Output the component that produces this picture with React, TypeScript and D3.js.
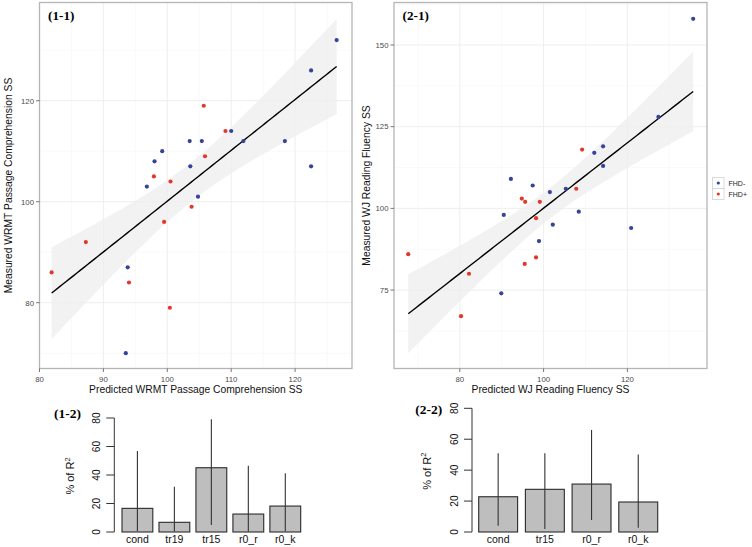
import React from "react";
import * as d3 from "d3";

// ---------- Panel (1-1): WRMT Passage Comprehension ----------
const p1BlueX = [126.5, 122.5, 110, 103.5, 105.4, 111.9, 118.4, 99.2, 98, 103.6, 122.5, 96.8, 104.8, 93.8, 93.5];
const p1BlueY = [132, 126, 114, 112, 112, 112, 112, 110, 108, 107, 107, 103, 101, 87, 70];
const p1RedX = [105.7, 109.1, 105.9, 97.9, 100.5, 103.8, 99.5, 87.25, 81.9, 94, 100.4];
const p1RedY = [119, 114, 109, 105, 104, 99, 96, 92, 86, 84, 79];
const p1XTicks = [80, 90, 100, 110, 120];
const p1YTicks = [80, 100, 120];
const p1XDomain = [80.0, 128.9];
const p1YDomain = [66.97, 139.45];

// ---------- Panel (2-1): WJ Reading Fluency ----------
const p2BlueX = [135.7, 127.4, 112.1, 114.2, 114.2, 92.2, 97.4, 101.5, 105.3, 90.5, 108.4, 102.2, 120.9, 98.9, 89.9];
const p2BlueY = [158, 128, 117, 119, 113, 109, 107, 105, 106, 98, 99, 95, 94, 90, 74];
const p2RedX = [109.2, 107.8, 94.8, 95.6, 99.1, 98.2, 67.7, 95.5, 98.2, 82.2, 80.3];
const p2RedY = [118, 106, 103, 102, 102, 97, 86, 83, 85, 80, 67];
const p2XTicks = [80, 100, 120];
const p2YTicks = [75, 100, 125, 150];
const p2XDomain = [64.3, 139.0];
const p2YDomain = [51.0, 163.0];

// ---------- Bar panels ----------
const bar1Cats = ["cond", "tr19", "tr15", "r0_r", "r0_k"];
const bar1Vals = [16.6, 6.8, 45.1, 12.6, 18.2];
const bar1Lo = [0.5, 0.3, 4.9, 0.3, 0.5];
const bar1Hi = [56.8, 31.8, 79.1, 46.5, 41.2];

const bar2Cats = ["cond", "tr15", "r0_r", "r0_k"];
const bar2Vals = [22.8, 27.6, 31.0, 19.4];
const bar2Lo = [4.1, 1.9, 7.8, 2.8];
const bar2Hi = [50.9, 50.9, 66.0, 50.2];

const barTicks = [0, 20, 40, 60, 80];

const legendLabels = ["FHD-", "FHD+"];
const BLUE = "#34439b";
const RED = "#e2382c";
const T_CRIT = 2.0639; // t(0.975, df = 24)

const SANS = "'Liberation Sans', Arial, Helvetica, sans-serif";
const SERIF = "'Liberation Serif', 'Times New Roman', serif";

function lmFit(xs: number[], ys: number[]) {
  const n = xs.length;
  const mx = d3.mean(xs)!;
  const my = d3.mean(ys)!;
  let sxx = 0, sxy = 0;
  xs.forEach((x, i) => { sxx += (x - mx) ** 2; sxy += (x - mx) * (ys[i] - my); });
  const b = sxy / sxx;
  const a = my - b * mx;
  let ssr = 0;
  xs.forEach((x, i) => { ssr += (ys[i] - (a + b * x)) ** 2; });
  const s = Math.sqrt(ssr / (n - 2));
  return {
    predict: (x: number) => a + b * x,
    se: (x: number) => s * Math.sqrt(1 / n + (x - mx) ** 2 / sxx),
  };
}

function minorBreaks(ticks: number[], domain: number[]) {
  const step = ticks[1] - ticks[0];
  const out: number[] = [];
  for (let v = ticks[0] - step / 2; v <= domain[1]; v += step) {
    if (v >= domain[0]) out.push(v);
  }
  return out;
}

type ScatterProps = {
  bx: number[]; by: number[]; rx: number[]; ry: number[];
  xTicks: number[]; yTicks: number[]; xDomain: number[]; yDomain: number[];
  left: number; right: number; top: number; bottom: number;
  title: string; xTitle: string; yTitle: string; yTitleX: number;
};

function Scatter(p: ScatterProps) {
  const x = d3.scaleLinear().domain(p.xDomain).range([p.left, p.right]);
  const y = d3.scaleLinear().domain(p.yDomain).range([p.bottom, p.top]);
  const allX = [...p.bx, ...p.rx];
  const allY = [...p.by, ...p.ry];
  const fit = lmFit(allX, allY);
  const [xmin, xmax] = d3.extent(allX) as [number, number];
  const xs = d3.range(0, 81).map((i) => xmin + ((xmax - xmin) * i) / 80);
  const band = d3
    .area<number>()
    .x((d) => x(d))
    .y0((d) => y(fit.predict(d) - T_CRIT * fit.se(d)))
    .y1((d) => y(fit.predict(d) + T_CRIT * fit.se(d)));
  const line = d3.line<number>().x((d) => x(d)).y((d) => y(fit.predict(d)));
  const xMinor = minorBreaks(p.xTicks, p.xDomain);
  const yMinor = minorBreaks(p.yTicks, p.yDomain);
  const clipId = "clip-" + p.title.replace(/[^0-9]/g, "");
  return (
    <g>
      <defs>
        <clipPath id={clipId}>
          <rect x={p.left} y={p.top} width={p.right - p.left} height={p.bottom - p.top} />
        </clipPath>
      </defs>
      <rect x={p.left} y={p.top} width={p.right - p.left} height={p.bottom - p.top} fill="#fff" />
      <g clipPath={`url(#${clipId})`}>
        {xMinor.map((v) => (
          <line key={"xm" + v} x1={x(v)} x2={x(v)} y1={p.top} y2={p.bottom} stroke="#f5f5f5" strokeWidth={0.6} />
        ))}
        {yMinor.map((v) => (
          <line key={"ym" + v} x1={p.left} x2={p.right} y1={y(v)} y2={y(v)} stroke="#f5f5f5" strokeWidth={0.6} />
        ))}
        {p.xTicks.map((v) => (
          <line key={"xg" + v} x1={x(v)} x2={x(v)} y1={p.top} y2={p.bottom} stroke="#ececec" strokeWidth={0.9} />
        ))}
        {p.yTicks.map((v) => (
          <line key={"yg" + v} x1={p.left} x2={p.right} y1={y(v)} y2={y(v)} stroke="#ececec" strokeWidth={0.9} />
        ))}
        <path d={band(xs) || ""} fill="#ededed" fillOpacity={0.75} />
        <path d={line(xs) || ""} fill="none" stroke="#000" strokeWidth={1.4} />
        {p.bx.map((v, i) => (
          <circle key={"b" + i} cx={x(v)} cy={y(p.by[i])} r={2.1} fill={BLUE} />
        ))}
        {p.rx.map((v, i) => (
          <circle key={"r" + i} cx={x(v)} cy={y(p.ry[i])} r={2.1} fill={RED} />
        ))}
      </g>
      <rect x={p.left} y={p.top} width={p.right - p.left} height={p.bottom - p.top} fill="none" stroke="#b5b5b5" strokeWidth={1.3} />
      {p.xTicks.map((v) => (
        <g key={"xt" + v}>
          <line x1={x(v)} x2={x(v)} y1={p.bottom} y2={p.bottom + 3.5} stroke="#555" strokeWidth={0.8} />
          <text x={x(v)} y={p.bottom + 13.3} textAnchor="middle" fontSize={7.8} fill="#4d4d4d" fontFamily={SANS}>{v}</text>
        </g>
      ))}
      {p.yTicks.map((v) => (
        <g key={"yt" + v}>
          <line x1={p.left - 3.5} x2={p.left} y1={y(v)} y2={y(v)} stroke="#555" strokeWidth={0.8} />
          <text x={p.left - 5.5} y={y(v) + 2.8} textAnchor="end" fontSize={7.8} fill="#4d4d4d" fontFamily={SANS}>{v}</text>
        </g>
      ))}
      <text x={(p.left + p.right) / 2 - 0} y={p.bottom + 24.8} textAnchor="middle" fontSize={10.3} fill="#111" fontFamily={SANS}>{p.xTitle}</text>
      <text transform={`translate(${p.yTitleX},${(p.top + p.bottom) / 2}) rotate(-90)`} textAnchor="middle" fontSize={10.3} fill="#111" fontFamily={SANS}>{p.yTitle}</text>
      <text x={p.left + 8.5} y={p.top + 17} fontSize={13.2} fontWeight="bold" fontFamily={SERIF} fill="#000">{p.title}</text>
    </g>
  );
}

type BarProps = {
  cats: string[]; vals: number[]; lo: number[]; hi: number[];
  x0: number; x1: number; y0: number; y1: number; axisX: number; title: string; titleX: number; titleY: number; labelX: number;
};

function Bars(p: BarProps) {
  const x = d3.scaleBand<string>().domain(p.cats).range([p.x0, p.x1]).paddingInner(0.2 / 1.2).paddingOuter(0);
  const y = d3.scaleLinear().domain([0, 80]).range([p.y0, p.y1]);
  const labelCx = p.axisX - 17.5;
  return (
    <g fontFamily={SANS}>
      {p.cats.map((c, i) => (
        <rect key={"bar" + c} x={x(c)!} y={y(p.vals[i])} width={x.bandwidth()} height={y(0) - y(p.vals[i])} fill="#bebebe" stroke="#2a2a2a" strokeWidth={1.1} />
      ))}
      {p.cats.map((c, i) => (
        <line key={"err" + c} x1={x(c)! + x.bandwidth() / 2} x2={x(c)! + x.bandwidth() / 2} y1={y(p.lo[i])} y2={y(p.hi[i])} stroke="#333" strokeWidth={1.1} />
      ))}
      {p.cats.map((c) => (
        <text key={"lab" + c} x={x(c)! + x.bandwidth() / 2} y={p.y0 + 11.3} textAnchor="middle" fontSize={10.5} fill="#111">{c}</text>
      ))}
      <line x1={p.axisX} x2={p.axisX} y1={y(0)} y2={y(80)} stroke="#333" strokeWidth={1} />
      {barTicks.map((v) => (
        <g key={"bt" + v}>
          <line x1={p.axisX - 8} x2={p.axisX} y1={y(v)} y2={y(v)} stroke="#333" strokeWidth={1} />
          <text transform={`translate(${labelCx + 3.6},${y(v)}) rotate(-90)`} textAnchor="middle" fontSize={10.2} fill="#111">{v}</text>
        </g>
      ))}
      <text transform={`translate(${p.labelX + 4},${(y(0) + y(80)) / 2 + 1}) rotate(-90)`} textAnchor="middle" fontSize={11} fill="#111">
        % of R<tspan dy={-4.5} fontSize={7.5}>2</tspan>
      </text>
      <text x={p.titleX} y={p.titleY} fontSize={13.5} fontWeight="bold" fontFamily={SERIF} fill="#000">{p.title}</text>
    </g>
  );
}

function Legend() {
  const colors = [BLUE, RED];
  return (
    <g fontFamily={SANS}>
      {legendLabels.map((l, i) => (
        <g key={l}>
          <rect x={712.5} y={177.5 + i * 11} width={11.5} height={11} fill="#fff" stroke="#d2d2d2" strokeWidth={0.8} />
          <circle cx={718.3} cy={183 + i * 11} r={1.6} fill={colors[i]} />
          <text x={728.5} y={185.5 + i * 11} fontSize={7} fill="#222">{l}</text>
        </g>
      ))}
    </g>
  );
}

export default function App() {
  return (
    <svg width={752} height={547} style={{ position: "absolute", left: 0, top: 0, background: "#fff" }}>
      <rect x={0} y={0} width={752} height={547} fill="#fff" />
      <Scatter
        bx={p1BlueX} by={p1BlueY} rx={p1RedX} ry={p1RedY}
        xTicks={p1XTicks} yTicks={p1YTicks} xDomain={p1XDomain} yDomain={p1YDomain}
        left={39.5} right={352} top={2.5} bottom={368.5}
        title="(1-1)" xTitle="Predicted WRMT Passage Comprehension SS" yTitle="Measured WRMT Passage Comprehension SS" yTitleX={11.7}
      />
      <Scatter
        bx={p2BlueX} by={p2BlueY} rx={p2RedX} ry={p2RedY}
        xTicks={p2XTicks} yTicks={p2YTicks} xDomain={p2XDomain} yDomain={p2YDomain}
        left={394} right={707} top={2.5} bottom={368.5}
        title="(2-1)" xTitle="Predicted WJ Reading Fluency SS" yTitle="Measured WJ Reading Fluency SS" yTitleX={369.5}
      />
      <Legend />
      <Bars cats={bar1Cats} vals={bar1Vals} lo={bar1Lo} hi={bar1Hi} x0={122} x1={300.7} y0={532} y1={418} axisX={114.3} title="(1-2)" titleX={54} titleY={418} labelX={70} />
      <Bars cats={bar2Cats} vals={bar2Vals} lo={bar2Lo} hi={bar2Hi} x0={478.7} x1={657.7} y0={532} y1={408.3} axisX={472} title="(2-2)" titleX={415.3} titleY={414} labelX={426.7} />
    </svg>
  );
}
